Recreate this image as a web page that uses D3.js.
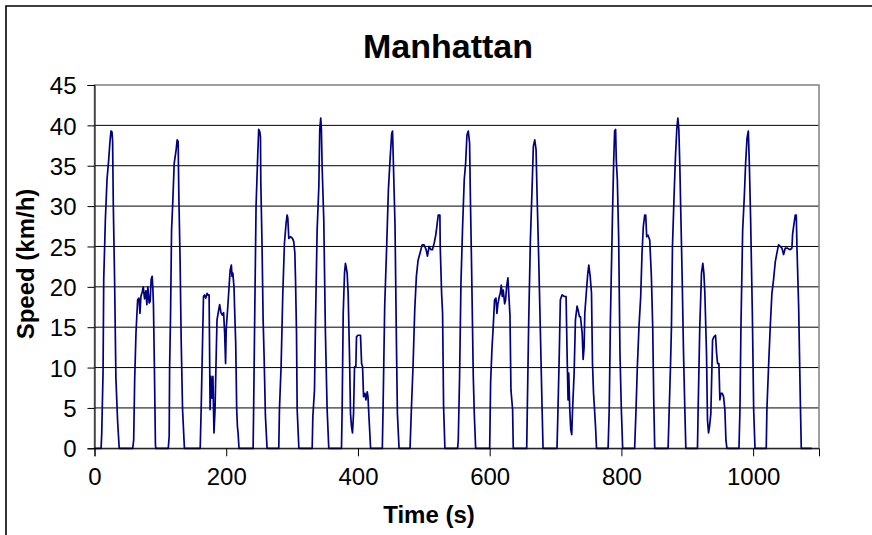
<!DOCTYPE html>
<html>
<head>
<meta charset="utf-8">
<script src="https://cdn.jsdelivr.net/npm/d3@7"></script>
<style>
  html, body { margin: 0; padding: 0; background: #fff; }
  svg { display: block; font-family: "Liberation Sans", Arial, sans-serif; }
</style>
</head>
<body>
<svg id="chart" width="872" height="535"></svg>
<script>
const chartTitle = "Manhattan";
const xAxisTitle = "Time (s)";
const yAxisTitle = "Speed (km/h)";
const xTicks = [0, 200, 400, 600, 800, 1000];
const yTicks = [0, 5, 10, 15, 20, 25, 30, 35, 40, 45];
const xDomain = [0, 1100];
const yDomain = [0, 45];

// [time (s), speed (km/h)]
const speedSamples = [
  [0,0],[10,0],[11,1.9],[13,9.5],[14,20.9],[16.5,28.3],[19,33.3],[21.5,35.7],[23.5,38],[25,39.3],[26.5,39.2],[27.5,38],[28.5,30.4],[30.5,20.9],[32.5,8.7],[35,3.5],[37.5,0],
  [58,0],[59.5,1],[61,8.5],[63,14.3],[65.5,18.4],[67.5,18.6],[69,16.7],[70.5,18.8],[72.5,19.4],[74,20],[76,18.5],[78,19.5],[79.5,17.8],[81,20],[83,18],[84.5,18.2],[86,20.9],[87.5,21.3],[88.5,20],[89.5,17.8],[91,9.7],[92.5,0.5],[93,0],
  [112,0],[113.4,1.5],[114,9.7],[115.5,16.7],[117,27],[119,30.8],[121,35.3],[124,37],[125.5,38.2],[127,38],[128,31.6],[130,23],[131.6,13.4],[133.7,4.8],[136.5,0],
  [160.5,0],[162,5],[164,13],[165.5,18.8],[167,19],[169,18.6],[171,19.2],[173,18.9],[174,19],[175.5,4.8],[176.8,8.9],[178.3,6.2],[179.8,8.9],[181.4,1.9],[183,4.8],[184.5,10.5],[186,15.9],[188.5,17.1],[190,17.8],[192,16.8],[194,16.5],[196,16.8],[197.6,14.3],[199,10.5],[200,14.8],[202,17.1],[204,19.6],[206,22.1],[207.8,22.7],[208.8,21.3],[210,21.7],[211.8,20],[212.8,17.1],[214.4,13],[215.9,4.8],[217,2.7],[218,1.9],[219.4,0],
  [240.8,0],[241.8,6],[243.3,16.7],[245.3,30],[247.8,36.2],[249.3,39.5],[251,39.2],[252,38.5],[252.5,33],[254.4,25],[256,16],[257.5,11.4],[259.5,4],[262,0],
  [279.8,0],[280.8,4.8],[283.3,10.1],[285.9,19.2],[288.4,25.4],[290.9,27.9],[292.5,28.9],[293.5,28.5],[295,26],[297.6,26.2],[300.6,26],[302.5,25.6],[304.2,24.2],[305.2,20.9],[306.7,14.3],[307.7,4.8],[310.3,0],
  [330.5,0],[331.5,3.9],[334,7.2],[335.6,15.9],[338,27],[340.6,32.4],[342,39.5],[343.5,40.9],[344.5,39.5],[345.6,34.9],[348.1,28.3],[350.6,14.3],[353.2,4.8],[355.7,0],
  [375,0],[376,4.8],[377.6,16.7],[379.6,21.7],[381,22.9],[382,22.5],[383.6,21.7],[385.1,19.2],[387.2,11.4],[388.7,4.3],[390.2,2.7],[391.7,1.9],[393.3,4.3],[394.8,10.1],[396.8,10.1],[397.8,13.8],[399.9,14],[403.9,14],[405.5,10.5],[407,10.1],[408.5,6.4],[410.6,6.8],[412.1,6],[414.1,7],[415.2,6.4],[416.7,3.9],[419.2,0],
  [437,0],[438.1,4.8],[440.6,17.6],[443.6,25],[446.2,32],[448.7,35.7],[451.2,39],[452.5,39.3],[453.8,35.3],[456.3,27.5],[458.3,13.8],[459.9,4.3],[462.4,0],
  [479.1,0],[481.1,4.8],[483.6,10.1],[486.2,17.1],[488.7,21.3],[491.3,23.3],[494.3,24.2],[497.4,25.2],[500.4,25.2],[503.5,24.6],[505.5,23.8],[508,25],[510.6,24.6],[513,24.6],[515.7,25.4],[518.3,26.5],[519.8,27.5],[521.9,28.9],[524.4,28.9],[524.9,25],[527,19.2],[528.5,16.7],[530,5.2],[532,0],
  [551.3,0],[552.3,1],[554.3,8.9],[556.4,20.5],[558.9,27.5],[561.4,33.3],[563.5,35.3],[565.5,38.8],[567.5,39.3],[569.5,37.8],[570.6,31.6],[572.6,22.1],[575.1,8.9],[576.7,4.1],[578.7,0],
  [600,0],[601.4,8.1],[603.4,12.2],[605.4,15.1],[607.4,18.4],[609.5,18.6],[611,16.7],[612.5,17.9],[614.6,18.8],[616.1,19.2],[617.6,20.2],[619.1,18.8],[620.6,19.6],[622.7,17.9],[624.2,18.4],[625.7,20],[627.7,21.1],[629.2,18.8],[630.8,16.5],[632.3,7.2],[634.8,4.8],[635.8,0],
  [656.2,0],[657.2,5.2],[659.2,15.5],[661.8,25.8],[664.3,32],[666.3,37.4],[668.4,38.2],[670.4,37],[671.9,31.6],[674.5,23.3],[677,14.3],[679.5,5.2],[681,0],
  [702.2,0],[703.7,4.8],[705.7,11.8],[707.3,18.4],[709.8,19],[713.4,18.8],[716,18.8],[717.5,11.8],[719,6],[720,9.3],[721.6,4.8],[723.1,2.3],[724.6,1.7],[725.6,4.3],[728.2,9.3],[730.2,15.9],[732.7,17.6],[734.3,17.1],[736.3,16.3],[737.8,16.3],[740.4,14.3],[741.9,11],[743.4,12.6],[744.4,16.7],[747,19.6],[749,21.7],[750.5,22.7],[752.6,21.3],[754.6,19.2],[756.1,10.5],[757.7,6.8],[759.2,4.8],[760.7,2.7],[762.2,0],
  [779.8,0],[781.5,4.8],[783.3,15.9],[786.2,27.9],[788.2,35.3],[789.7,39.3],[791.2,39.5],[792.2,35.7],[793.8,33.3],[795.8,26.2],[797.8,11.8],[799.9,4.8],[801.9,0],
  [820.1,0],[822.2,4.8],[824.2,10.1],[826.7,15.1],[829.3,18.8],[831.3,24.2],[833.3,27.5],[835.4,28.9],[836.9,28.9],[838.4,26.2],[840.4,26.4],[843,25.8],[845.5,21.3],[847.5,15.1],[849.1,6],[850.6,0],
  [870.9,0],[872.4,4.3],[874.5,10.1],[876,15.1],[877.5,25],[880.1,31.6],[882.1,36.2],[884.1,39.5],[885.7,40.9],[887.2,39.5],[888.7,34.9],[890.2,29.1],[892.3,20.9],[894.3,11.8],[896.3,4.8],[897.8,0],
  [915.5,0],[916.5,4.8],[919,15.1],[921.6,21.7],[923.6,22.9],[925.2,21.7],[926.7,19.2],[929.2,11.8],[930.7,3.5],[932.3,1.9],[933.8,2.7],[935.8,4.3],[938.4,13.4],[940.4,13.8],[942.9,14],[944.5,11.8],[946,10.5],[948,10.5],[949.5,6],[951.1,6.8],[953.1,6.8],[955.1,6.4],[957.1,4.8],[958.7,1],[960.2,0],
  [978.5,0],[980,4.8],[981.5,15.1],[984.1,27],[986.6,31.2],[988.6,35.3],[990.7,38.4],[992.7,39.3],[994.2,35.3],[996.2,28.3],[998.8,16.7],[1000.8,4.8],[1002.8,0],
  [1019.9,0],[1020.9,4.8],[1023.4,10.1],[1026,15.1],[1028.5,19.2],[1031,20.9],[1033.6,23.1],[1036.1,24.2],[1038.6,25.2],[1041.2,25],[1043.7,24.8],[1046.2,24],[1048.8,24.8],[1051.3,24.8],[1056.4,24.6],[1058.9,24.8],[1059.9,26.5],[1061.5,27.5],[1064,28.9],[1065.5,28.9],[1066.5,25],[1069.1,17.6],[1071.6,6],[1073.1,0],[1089,0]
];

const svg = d3.select("#chart");
const W = 872, H = 535;
const plot = { left: 94.5, right: 819, top: 85, bottom: 448.3 };

svg.append("rect").attr("width", W).attr("height", H).attr("fill", "#fff");

// outer chart border (only left and top visible in the crop)
svg.append("path")
  .attr("d", `M6,${H + 2} V6 H${W + 2}`)
  .attr("fill", "none").attr("stroke", "#000").attr("stroke-width", 1.6);

const x = d3.scaleLinear().domain(xDomain).range([plot.left, plot.right]);
const y = d3.scaleLinear().domain(yDomain).range([plot.bottom, plot.top]);

// gridlines
svg.append("g")
  .selectAll("line")
  .data(yTicks.filter(v => v > 0 && v < 45))
  .join("line")
  .attr("x1", plot.left).attr("x2", plot.right)
  .attr("y1", d => y(d)).attr("y2", d => y(d))
  .attr("stroke", "#000").attr("stroke-width", 1);

// plot area frame (gray)
svg.append("rect")
  .attr("x", plot.left).attr("y", plot.top)
  .attr("width", plot.right - plot.left).attr("height", plot.bottom - plot.top)
  .attr("fill", "none").attr("stroke", "#808080").attr("stroke-width", 1.5);

// data line
const line = d3.line().x(d => x(d[0])).y(d => y(d[1]));
svg.append("path")
  .datum(speedSamples)
  .attr("d", line)
  .attr("fill", "none")
  .attr("stroke", "#000080")
  .attr("stroke-width", 1.7)
  .attr("stroke-linejoin", "round");

// axes
const yAxis = d3.axisLeft(y).tickValues(yTicks).tickSize(7).tickPadding(11).tickFormat(d3.format("d"));
const yG = svg.append("g").attr("transform", `translate(${plot.left},0)`).call(yAxis);
yG.select(".domain").attr("stroke", "#000").attr("stroke-width", 1);
yG.selectAll(".tick line").attr("stroke", "#000");
yG.selectAll(".tick text")
  .attr("font-family", "'Liberation Sans', Arial, sans-serif")
  .attr("font-size", 24).attr("fill", "#000").attr("dy", "0.36em");

const xAxis = d3.axisBottom(x).tickValues(xTicks).tickSize(8).tickPadding(12).tickFormat(d3.format("d"));
const xG = svg.append("g").attr("transform", `translate(0,${plot.bottom})`).call(xAxis);
xG.select(".domain").attr("stroke", "#000").attr("stroke-width", 1);
xG.selectAll(".tick line").attr("stroke", "#000");
xG.selectAll(".tick text")
  .attr("font-family", "'Liberation Sans', Arial, sans-serif")
  .attr("font-size", 24).attr("fill", "#000");

// titles
svg.append("text")
  .attr("x", 448).attr("y", 57.5)
  .attr("text-anchor", "middle")
  .attr("font-size", 34).attr("font-weight", "bold")
  .text(chartTitle);

svg.append("text")
  .attr("x", 429).attr("y", 523)
  .attr("text-anchor", "middle")
  .attr("font-size", 24).attr("font-weight", "bold")
  .text(xAxisTitle);

svg.append("text")
  .attr("transform", "translate(34,264) rotate(-90)")
  .attr("text-anchor", "middle")
  .attr("font-size", 24).attr("font-weight", "bold")
  .text(yAxisTitle);
</script>
</body>
</html>
